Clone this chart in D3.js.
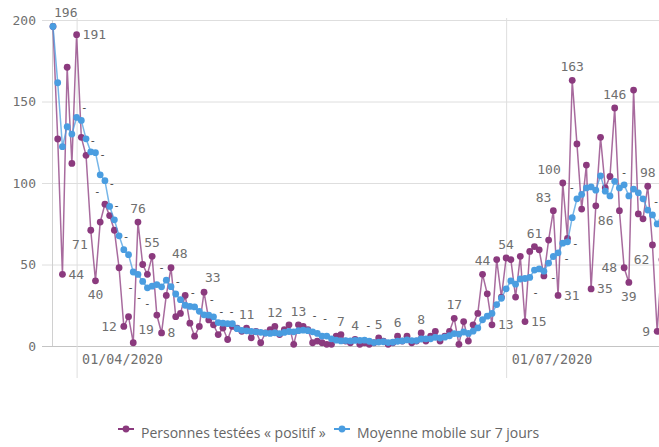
<!DOCTYPE html>
<html><head><meta charset="utf-8">
<script src="https://cdn.jsdelivr.net/npm/d3@7"></script>
<style>
body{margin:0;background:#fff;}
svg{display:block;}
</style></head><body>
<svg id="chart" width="659" height="447"></svg>
<script>
// ---- data ----
const startDate = "2020-03-27";
const endDate = "2020-08-03";
const positifs = [196,127,44,171,112,191,128,117,71,40,76,87,80,71,48,12,18,2,76,50,
  44,55,19,8,31,48,18,20,31,14,6,12,33,16,13,7,11,4,12,11,
  9,11,5,9,2,8,10,12,7,10,13,1,13,12,10,2,3,2,1,1,
  6,7,3,2,4,1,2,1,2,5,3,1,2,6,3,6,2,3,8,3,
  6,9,3,6,9,17,1,15,3,13,20,44,32,13,53,30,54,53,30,55,
  15,58,61,59,43,65,83,31,100,66,163,124,84,111,35,86,128,97,104,146,
  83,48,39,157,81,78,98,62,9,53];
const moyenne = [196,161.5,122.3,134.5,130,140.2,138.4,127.1,119.1,118.6,105,101.4,85.6,77.4,67.6,59.1,56,45.4,43.9,39.6,
  35.7,36.7,37.7,36.3,40.4,36.4,31.9,28.4,25,24.3,24,21.3,19.1,18.9,17.9,14.4,14,13.7,13.7,10.6,
  9.6,9.3,9.0,8.7,8.4,7.9,7.7,8.1,7.6,8.3,8.9,8.7,9.4,9.7,9.4,8.7,7.7,6.1,6.1,4.4,
  3.6,3.1,3.3,3.1,3.4,3.4,3.6,2.9,2.1,2.4,2.6,2.1,2.3,2.9,3.1,3.7,3.3,3.3,4.3,4.4,
  4.4,5.3,4.9,5.4,6.3,7.6,7.3,8.6,7.7,9.1,11.1,16.1,18.3,20,25.4,29.3,35.1,39.9,37.9,41.1,
  41.4,42.1,46.6,47.3,45.9,50.9,54.9,57.1,63.1,63.9,78.7,90.3,93,97,97.6,95.6,104.4,95,92.1,101,
  97,98.9,92.1,96.3,94,90.3,83.4,80.4,74.9,76.9];
const tickDates = ["2020-04-01","2020-07-01"];
const yTicks = [0,50,100,150,200];
const seriesNames = ["Personnes testées « positif »","Moyenne mobile sur 7 jours"];
const colors = ["#8b3a7e","#4a9de0"];

// labelled points of the daily series: [index, placement]
const labeled = [[0,"aR"],[5,"r"],[2,"r"],[8,"bL"],[9,"b"],[15,"l"],[18,"a"],[21,"a"],[22,"bL"],[23,"r"],
  [25,"aR"],[32,"aR"],[41,"a"],[47,"a"],[52,"a"],[61,"a"],[64,"a"],[69,"a"],[73,"a"],[78,"a"],[85,"a"],
  [91,"a"],[93,"r"],[96,"a"],[100,"r"],[102,"a"],[106,"aL"],[108,"aL"],[107,"r"],[110,"a"],[114,"r"],
  [115,"bR"],[119,"a"],[121,"l"],[122,"b"],[126,"a"],[127,"bL"],[128,"l"]];
// "-" labels of the moving average: [index, dx, dy]
const dashes = [[6,3,-13],[8,2,-12],[9,7,1],[11,7,2],[10,-3,16],[12,7,-1],[14,7,0],[16,2,32],[18,1,23],
  [20,0,15],[23,0,-20],[26,2,-13],[29,3,-14],[33,3,-16],[35,3,-12],[37,4,-13],[55,2,-17],[57,3,-18],
  [67,-1,-16],[102,1,22],[106,0,20],[109,-1,16],[110,3,25],[111,-5,-12],[121,0,-13],[128,-1,-23]];

// ---- chart ----
const svg = d3.select("#chart");
const parse = d3.utcParse("%Y-%m-%d");
const t0 = parse(startDate);
const dates = positifs.map((_, i) => d3.utcDay.offset(t0, i));
const x = d3.scaleUtc().domain([t0, parse(endDate)]).range([53, 661.9]);
const y = d3.scaleLinear().domain([0, 200]).range([346, 20]);
const mono = "'DejaVu Sans Mono', monospace";
const grey = "#6f6f6f";

// y grid + labels
const yAxis = svg.append("g").attr("transform", "translate(42,0)")
  .call(d3.axisLeft(y).tickValues(yTicks).tickSize(-700).tickPadding(6).tickFormat(d3.format("d")));
yAxis.select(".domain").remove();
yAxis.selectAll(".tick line").attr("stroke", d => d === 0 ? "#c4c4c4" : "#dedede");
yAxis.selectAll(".tick text").attr("fill", grey).attr("font-family", mono).attr("font-size", 13);

// x axis ticks (vertical grid lines)
const xAxis = svg.append("g").attr("transform", "translate(0,378)")
  .call(d3.axisBottom(x).tickValues(tickDates.map(parse)).tickSize(-360).tickPadding(0)
    .tickFormat(d3.utcFormat("%d/%m/%Y")));
xAxis.select(".domain").remove();
xAxis.selectAll(".tick line").attr("stroke", "#dedede");
xAxis.selectAll(".tick text").attr("fill", grey).attr("font-family", mono).attr("font-size", 13.4)
  .attr("text-anchor", "start").attr("x", 5).attr("y", -14).attr("dy", 0);

// left axis line
svg.append("line").attr("x1", 52.5).attr("x2", 52.5).attr("y1", y(200)).attr("y2", y(0))
  .attr("stroke", "#d0d0d0");

const line = d3.line().x((d, i) => x(dates[i])).y(d => y(d));
const series = [positifs, moyenne];
series.forEach((s, k) => {
  const g = svg.append("g");
  g.append("path").datum(s).attr("d", line).attr("fill", "none")
    .attr("stroke", colors[k]).attr("stroke-opacity", 0.75).attr("stroke-width", 1.5);
  g.selectAll("circle").data(s).join("circle")
    .attr("cx", (d, i) => x(dates[i])).attr("cy", d => y(d)).attr("r", 3.4)
    .attr("fill", colors[k]);
});

// value labels
const place = {
  a: [0, -9, "middle"], b: [0, 18.5, "middle"], r: [6, 4.5, "start"], l: [-7, 4.5, "end"],
  aR: [1, -10, "start"], aL: [-2, -9, "end"], bL: [-3, 19, "end"], bR: [2, 19.5, "start"]
};
svg.append("g").selectAll("text").data(labeled).join("text")
  .attr("x", d => x(dates[d[0]]) + place[d[1]][0])
  .attr("y", d => y(positifs[d[0]]) + place[d[1]][1])
  .attr("text-anchor", d => place[d[1]][2])
  .attr("font-family", mono).attr("font-size", 13).attr("fill", grey)
  .text(d => Math.round(positifs[d[0]]));
svg.append("g").selectAll("text").data(dashes).join("text")
  .attr("x", d => x(dates[d[0]]) + d[1])
  .attr("y", d => y(moyenne[d[0]]) + d[2] + 4)
  .attr("text-anchor", "middle")
  .attr("font-family", mono).attr("font-size", 11).attr("fill", "#444")
  .text("-");

// legend
const legend = svg.append("g").attr("transform", "translate(0,433)");
const legendItems = [{x: 118, tx: 141}, {x: 334, tx: 357}];
legendItems.forEach((it, k) => {
  legend.append("line").attr("x1", it.x).attr("x2", it.x + 16).attr("y1", -4).attr("y2", -4)
    .attr("stroke", colors[k]).attr("stroke-width", 2);
  legend.append("circle").attr("cx", it.x + 8).attr("cy", -4).attr("r", 3.4).attr("fill", colors[k]);
  legend.append("text").attr("x", it.tx).attr("y", 5).attr("font-family", "'Open Sans', sans-serif")
    .attr("font-size", 14).attr("fill", "#666").text(seriesNames[k]);
});
</script>
</body></html>
